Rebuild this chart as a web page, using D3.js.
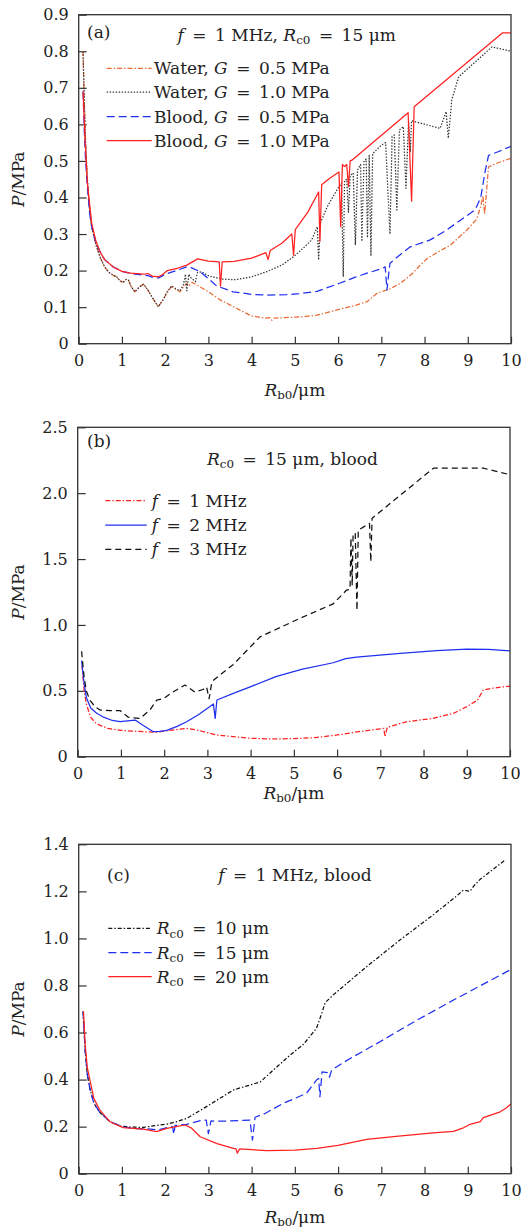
<!DOCTYPE html>
<html><head><meta charset="utf-8">
<script src="https://cdn.jsdelivr.net/npm/d3@7"></script>
<style>body{margin:0;background:#fff}svg{display:block}text{font-family:"DejaVu Serif","Liberation Serif",serif;fill:#222}</style>
</head><body>
<svg id="chart" width="531" height="1231"></svg>
<script>
// ---------- DATA ----------
const xTickValues = [0,1,2,3,4,5,6,7,8,9,10];
const xTickLabels = ["0","1","2","3","4","5","6","7","8","9","10"];

const aYTicks = [0,0.1,0.2,0.3,0.4,0.5,0.6,0.7,0.8,0.9];
const aYLabels = ["0","0.1","0.2","0.3","0.4","0.5","0.6","0.7","0.8","0.9"];
const bYTicks = [0,0.5,1.0,1.5,2.0,2.5];
const bYLabels = ["0","0.5","1.0","1.5","2.0","2.5"];
const cYTicks = [0,0.2,0.4,0.6,0.8,1.0,1.2,1.4];
const cYLabels = ["0","0.2","0.4","0.6","0.8","1.0","1.2","1.4"];

// panel (a)
const aWaterG05 = [[0.1,0.80],[0.13,0.66],[0.16,0.55],[0.2,0.45],[0.25,0.37],[0.3,0.32],[0.4,0.27],[0.5,0.235],[0.6,0.21],[0.7,0.195],[0.8,0.187],[0.88,0.183],[0.95,0.172],[1.03,0.168],[1.1,0.176],[1.15,0.174],[1.22,0.155],[1.3,0.142],[1.4,0.155],[1.5,0.163],[1.6,0.147],[1.7,0.127],[1.84,0.101],[1.95,0.12],[2.05,0.142],[2.15,0.156],[2.25,0.148],[2.34,0.142],[2.42,0.155],[2.5,0.165],[2.55,0.158],[2.62,0.168],[2.8,0.156],[3.0,0.142],[3.27,0.12],[3.6,0.1],[3.96,0.078],[4.0,0.076],[4.3,0.07],[4.42,0.071],[4.47,0.064],[4.52,0.07],[4.74,0.071],[5.2,0.074],[5.51,0.078],[5.8,0.087],[6.13,0.097],[6.4,0.105],[6.67,0.115],[6.9,0.138],[7.2,0.15],[7.44,0.165],[7.7,0.19],[7.9,0.215],[8.06,0.233],[8.3,0.25],[8.6,0.27],[8.98,0.311],[9.2,0.34],[9.3,0.375],[9.35,0.405],[9.39,0.355],[9.43,0.41],[9.48,0.484],[9.7,0.495],[10,0.507]];
const aWaterG10 = [[0.1,0.80],[0.13,0.66],[0.16,0.55],[0.2,0.45],[0.25,0.37],[0.3,0.32],[0.4,0.27],[0.5,0.235],[0.6,0.21],[0.7,0.195],[0.8,0.187],[0.88,0.183],[0.95,0.172],[1.03,0.168],[1.1,0.176],[1.15,0.174],[1.22,0.155],[1.3,0.142],[1.4,0.155],[1.5,0.163],[1.6,0.147],[1.7,0.127],[1.84,0.101],[1.95,0.12],[2.05,0.142],[2.15,0.158],[2.25,0.15],[2.34,0.145],[2.42,0.16],[2.47,0.19],[2.5,0.145],[2.55,0.19],[2.6,0.18],[2.7,0.17],[2.75,0.195],[2.84,0.197],[3.0,0.186],[3.3,0.177],[3.6,0.175],[4.0,0.183],[4.35,0.197],[4.7,0.215],[4.97,0.238],[5.2,0.262],[5.39,0.284],[5.52,0.32],[5.55,0.229],[5.59,0.33],[5.75,0.375],[5.97,0.42],[6.08,0.44],[6.12,0.183],[6.15,0.447],[6.2,0.45],[6.24,0.36],[6.28,0.46],[6.35,0.467],[6.4,0.27],[6.45,0.475],[6.52,0.49],[6.55,0.28],[6.6,0.5],[6.65,0.505],[6.68,0.29],[6.72,0.515],[6.76,0.24],[6.8,0.52],[7.0,0.543],[7.1,0.55],[7.2,0.30],[7.25,0.567],[7.3,0.571],[7.36,0.366],[7.42,0.585],[7.51,0.594],[7.57,0.425],[7.63,0.607],[7.67,0.525],[7.7,0.61],[7.79,0.607],[8.36,0.589],[8.5,0.635],[8.55,0.562],[8.63,0.667],[8.79,0.73],[9.56,0.812],[10,0.80]];
const aBloodG05 = [[0.1,0.69],[0.13,0.58],[0.16,0.5],[0.2,0.43],[0.25,0.36],[0.3,0.32],[0.4,0.275],[0.5,0.25],[0.6,0.23],[0.8,0.21],[1.0,0.198],[1.2,0.192],[1.4,0.189],[1.6,0.186],[1.75,0.18],[1.85,0.18],[2.0,0.19],[2.2,0.198],[2.5,0.21],[2.6,0.208],[2.81,0.197],[3.0,0.178],[3.19,0.158],[3.57,0.142],[4.0,0.135],[4.35,0.133],[4.8,0.134],[5.1,0.137],[5.51,0.143],[6.05,0.166],[6.4,0.182],[6.67,0.193],[7.0,0.205],[7.09,0.21],[7.13,0.147],[7.2,0.22],[7.4,0.24],[7.67,0.265],[8.13,0.284],[8.5,0.31],[8.83,0.338],[9.17,0.366],[9.3,0.4],[9.4,0.47],[9.48,0.515],[9.7,0.525],[10,0.54]];
const aBloodG10 = [[0.1,0.69],[0.15,0.55],[0.2,0.44],[0.3,0.33],[0.4,0.28],[0.5,0.25],[0.6,0.23],[0.8,0.21],[1.0,0.198],[1.2,0.193],[1.5,0.19],[1.6,0.192],[1.7,0.185],[1.85,0.183],[1.95,0.19],[2.05,0.2],[2.3,0.207],[2.5,0.215],[2.75,0.232],[3.0,0.226],[3.25,0.224],[3.28,0.157],[3.32,0.224],[3.6,0.225],[4.0,0.234],[4.33,0.249],[4.38,0.23],[4.43,0.255],[4.7,0.275],[4.93,0.30],[4.97,0.242],[5.01,0.312],[5.3,0.36],[5.55,0.415],[5.58,0.28],[5.62,0.435],[5.8,0.452],[6.02,0.47],[6.06,0.32],[6.1,0.49],[6.15,0.485],[6.2,0.49],[6.24,0.43],[6.28,0.5],[6.32,0.502],[7.62,0.632],[7.7,0.39],[7.76,0.648],[9.8,0.85],[10,0.85]];

// panel (b)
const bF1 = [[0.1,0.69],[0.15,0.5],[0.2,0.4],[0.3,0.3],[0.4,0.26],[0.5,0.24],[0.7,0.215],[1.0,0.2],[1.4,0.192],[1.8,0.185],[2.0,0.195],[2.52,0.215],[2.8,0.2],[3.2,0.165],[3.99,0.14],[4.5,0.135],[5.0,0.137],[5.5,0.145],[6.0,0.165],[6.5,0.19],[7.0,0.212],[7.08,0.215],[7.11,0.152],[7.16,0.222],[7.6,0.265],[8.2,0.29],[8.7,0.33],[9.0,0.38],[9.25,0.43],[9.38,0.506],[9.6,0.52],[10,0.536]];
const bF2 = [[0.09,0.73],[0.15,0.55],[0.2,0.45],[0.3,0.37],[0.44,0.33],[0.6,0.3],[0.8,0.275],[0.98,0.266],[1.15,0.272],[1.33,0.278],[1.5,0.24],[1.75,0.19],[1.9,0.192],[2.06,0.2],[2.3,0.23],[2.52,0.265],[2.8,0.32],[3.14,0.40],[3.18,0.29],[3.22,0.43],[3.6,0.48],[3.99,0.53],[4.6,0.61],[5.2,0.665],[5.91,0.713],[6.2,0.745],[6.45,0.755],[7.46,0.784],[8.3,0.805],[9.0,0.817],[9.5,0.815],[10,0.804]];
const bF3 = [[0.09,0.8],[0.15,0.6],[0.2,0.5],[0.28,0.43],[0.4,0.38],[0.52,0.354],[0.75,0.35],[0.98,0.35],[1.17,0.30],[1.44,0.29],[1.67,0.354],[1.83,0.43],[1.98,0.44],[2.2,0.49],[2.48,0.544],[2.71,0.49],[2.9,0.51],[2.98,0.53],[3.04,0.44],[3.1,0.56],[3.14,0.58],[3.6,0.70],[4.22,0.91],[5.14,1.05],[5.91,1.16],[6.22,1.265],[6.3,1.27],[6.32,1.66],[6.35,1.3],[6.37,1.68],[6.42,1.70],[6.46,1.11],[6.49,1.72],[6.75,1.77],[6.78,1.48],[6.81,1.81],[8.23,2.19],[9.38,2.19],[10,2.14]];

// panel (c)
const cRc10 = [[0.1,0.69],[0.15,0.52],[0.2,0.42],[0.26,0.36],[0.35,0.3],[0.49,0.26],[0.72,0.222],[0.96,0.203],[1.2,0.198],[1.5,0.197],[1.8,0.205],[2.04,0.211],[2.25,0.22],[2.5,0.235],[3.0,0.29],[3.58,0.356],[4.2,0.39],[4.5,0.44],[4.89,0.504],[5.2,0.55],[5.5,0.618],[5.62,0.68],[5.7,0.727],[5.89,0.76],[6.66,0.88],[7.43,0.993],[8.2,1.1],[8.74,1.18],[8.9,1.205],[9.05,1.2],[9.15,1.225],[9.28,1.25],[9.86,1.333]];
const cRc15 = [[0.1,0.69],[0.15,0.52],[0.2,0.42],[0.26,0.36],[0.35,0.3],[0.49,0.26],[0.72,0.222],[1.0,0.2],[1.3,0.192],[1.6,0.19],[1.84,0.186],[2.1,0.198],[2.17,0.2],[2.2,0.168],[2.23,0.205],[2.5,0.21],[2.88,0.228],[2.95,0.228],[3.0,0.17],[3.06,0.225],[3.12,0.223],[3.5,0.224],[3.96,0.228],[4.02,0.143],[4.08,0.24],[4.3,0.255],[4.73,0.299],[5.0,0.32],[5.27,0.342],[5.5,0.398],[5.55,0.405],[5.58,0.327],[5.63,0.433],[5.75,0.43],[5.8,0.41],[5.85,0.44],[6.1,0.47],[6.35,0.497],[6.97,0.561],[7.8,0.65],[8.67,0.738],[10,0.868]];
const cRc20 = [[0.11,0.69],[0.15,0.55],[0.2,0.45],[0.26,0.398],[0.35,0.32],[0.49,0.27],[0.72,0.221],[1.03,0.196],[1.5,0.189],[1.8,0.179],[2.04,0.193],[2.25,0.2],[2.46,0.207],[2.6,0.195],[2.81,0.157],[3.2,0.128],[3.58,0.108],[3.64,0.106],[3.67,0.087],[3.72,0.105],[4.35,0.098],[5.0,0.1],[5.51,0.108],[6.0,0.12],[6.66,0.146],[7.4,0.16],[8.2,0.174],[8.67,0.18],[8.9,0.195],[9.0,0.205],[9.05,0.21],[9.29,0.221],[9.36,0.238],[9.75,0.263],[9.9,0.28],[10,0.298]];

// ---------- STYLES / LAYOUT ----------
const ORANGE="#ea6a33", DOT="#333333", BLUE="#1f30f0", RED="#ff2020", BLACK="#111111";
const DASHDOT="5,2,1.4,2", DOTTED="1.4,1.6", DASHED="8,4", DASHED_B="6,4", DASHDOT_C="4,2,1.4,2";
const EQ = "\u2002=\u2002";
const FS = 17;

const panels = [
  {id:"a", left:78.7, right:511, top:14.7, bottom:343.7, ymax:0.9, yt:aYTicks, yl:aYLabels,
   letter:"(a)", letterX:87, letterY:38,
   title:[["f","i"],[EQ+"1 MHz, ",""],["R","i"],["c0","s"],[EQ+"15 μm",""]], titleX:286.7, titleY:41,
   legX1:106.7, legX2:151.7, legTX:154, legY:[68.3,92.2,116.6,140.5],
   series:[
     {d:aWaterG05, c:ORANGE, dash:DASHDOT, lab:[["Water, ",""],["G","i"],[EQ+"0.5 MPa",""]]},
     {d:aWaterG10, c:DOT, dash:DOTTED, lab:[["Water, ",""],["G","i"],[EQ+"1.0 MPa",""]]},
     {d:aBloodG05, c:BLUE, dash:DASHED, lab:[["Blood, ",""],["G","i"],[EQ+"0.5 MPa",""]]},
     {d:aBloodG10, c:RED, dash:null, lab:[["Blood, ",""],["G","i"],[EQ+"1.0 MPa",""]]}
   ], xlabY:396},
  {id:"b", left:77.7, right:510, top:427.3, bottom:756.7, ymax:2.5, yt:bYTicks, yl:bYLabels,
   letter:"(b)", letterX:87, letterY:447,
   title:[["R","i"],["c0","s"],[EQ+"15 μm, blood",""]], titleX:292.5, titleY:465,
   legX1:105.3, legX2:146.7, legTX:151.7, legY:[500.7,525,549.3],
   series:[
     {d:bF1, c:RED, dash:DASHDOT, lab:[["f","i"],[EQ+"1 MHz",""]]},
     {d:bF2, c:BLUE, dash:null, lab:[["f","i"],[EQ+"2 MHz",""]]},
     {d:bF3, c:BLACK, dash:DASHED_B, lab:[["f","i"],[EQ+"3 MHz",""]]}
   ], xlabY:799},
  {id:"c", left:78.7, right:511, top:844.3, bottom:1173.7, ymax:1.4, yt:cYTicks, yl:cYLabels,
   letter:"(c)", letterX:107, letterY:880.5,
   title:[["f","i"],[EQ+"1 MHz, blood",""]], titleX:295, titleY:880.5,
   legX1:108.3, legX2:151.7, legTX:156.7, legY:[928.3,952.7,976.7],
   series:[
     {d:cRc10, c:BLACK, dash:DASHDOT_C, lab:[["R","i"],["c0","s"],[EQ+"10 μm",""]]},
     {d:cRc15, c:BLUE, dash:DASHED, lab:[["R","i"],["c0","s"],[EQ+"15 μm",""]]},
     {d:cRc20, c:RED, dash:null, lab:[["R","i"],["c0","s"],[EQ+"20 μm",""]]}
   ], xlabY:1223}
];

const svg = d3.select("#chart");
svg.append("rect").attr("width",531).attr("height",1231).attr("fill","#fff");

function rich(sel, parts, size){
  let sub=false;
  parts.forEach(([t,k])=>{
    const ts = sel.append("tspan").text(t);
    if(k==="i") ts.attr("font-style","italic");
    if(k==="s"){ ts.attr("font-size", size*0.7).attr("dy", size*0.2); sub=true; }
    else if(sub){ ts.attr("dy", -size*0.2); sub=false; }
  });
}

panels.forEach(p=>{
  const x = d3.scaleLinear().domain([0,10]).range([p.left,p.right]);
  const y = d3.scaleLinear().domain([0,p.ymax]).range([p.bottom,p.top]);
  const g = svg.append("g");

  const clipId = "clip-"+p.id;
  svg.append("defs").append("clipPath").attr("id",clipId)
    .append("rect").attr("x",p.left).attr("y",p.top).attr("width",p.right-p.left).attr("height",p.bottom-p.top);

  // axes
  const ax = g.append("g").attr("transform",`translate(0,${p.bottom})`)
    .call(d3.axisBottom(x).tickValues(xTickValues).tickFormat((d,i)=>xTickLabels[i]).tickSizeInner(-7).tickSizeOuter(0).tickPadding(11));
  const ay = g.append("g").attr("transform",`translate(${p.left},0)`)
    .call(d3.axisLeft(y).tickValues(p.yt).tickFormat((d,i)=>p.yl[i]).tickSizeInner(-8).tickSizeOuter(0).tickPadding(10));
  [ax,ay].forEach(a=>{
    a.select(".domain").remove();
    a.selectAll("line").attr("stroke","#333").attr("stroke-width",1.2);
    a.selectAll("text").attr("font-size",16).attr("fill","#222").attr("font-family",'"DejaVu Serif",serif');
  });

  // lines
  const line = d3.line().x(d=>x(d[0])).y(d=>y(d[1]));
  const lg = g.append("g").attr("clip-path",`url(#${clipId})`);
  p.series.forEach(s=>{
    lg.append("path").attr("d",line(s.d)).attr("fill","none")
      .attr("stroke",s.c).attr("stroke-width",1.25)
      .attr("stroke-linejoin","round")
      .attr("stroke-dasharray",s.dash);
  });

  // frame
  g.append("rect").attr("x",p.left).attr("y",p.top).attr("width",p.right-p.left).attr("height",p.bottom-p.top)
    .attr("fill","none").attr("stroke","#333").attr("stroke-width",1.3);

  // letter & title
  g.append("text").attr("x",p.letterX).attr("y",p.letterY).attr("font-size",FS).text(p.letter);
  const tt = g.append("text").attr("x",p.titleX).attr("y",p.titleY).attr("font-size",FS).attr("text-anchor","middle");
  rich(tt,p.title,FS);

  // legend
  p.series.forEach((s,i)=>{
    const ly = p.legY[i];
    g.append("line").attr("x1",p.legX1).attr("x2",p.legX2).attr("y1",ly).attr("y2",ly)
      .attr("stroke",s.c).attr("stroke-width",1.25).attr("stroke-dasharray",s.dash);
    const t = g.append("text").attr("x",p.legTX).attr("y",ly+6).attr("font-size",FS);
    rich(t,s.lab,FS);
  });

  // axis labels
  const xl = g.append("text").attr("x",(p.left+p.right)/2).attr("y",p.xlabY).attr("font-size",FS).attr("text-anchor","middle");
  rich(xl,[["R","i"],["b0","s"],["/μm",""]],FS);
  const yl = g.append("text").attr("transform",`translate(24,${(p.top+p.bottom)/2}) rotate(-90)`).attr("font-size",FS).attr("text-anchor","middle");
  rich(yl,[["P","i"],["/MPa",""]],FS);
});
</script>
</body></html>
